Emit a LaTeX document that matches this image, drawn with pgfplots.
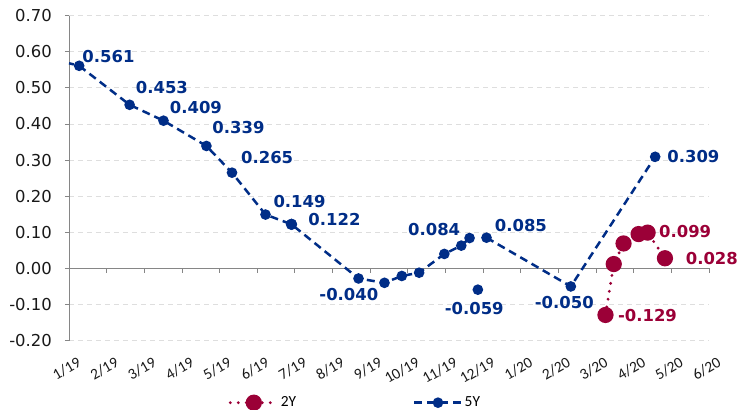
\documentclass[border=0pt]{standalone}
\usepackage{fontspec}
\setmainfont{DejaVu Sans}
\newfontfamily\carlito{Carlito}
\usepackage{pgfplots}
\pgfplotsset{compat=1.18}
\definecolor{navy5}{RGB}{0,45,135}
\definecolor{crim2}{RGB}{155,0,55}
\definecolor{axgray}{RGB}{134,134,134}
\definecolor{gridgray}{RGB}{222,222,222}
\begin{document}
\fontsize{16.5}{18}\selectfont
\begin{tikzpicture}[font=\fontsize{16.5}{18}\selectfont]
\begin{axis}[
  scale only axis, width=640bp, height=325bp,
  xmin=0, xmax=17, ymin=-0.2, ymax=0.7,
  axis x line*=bottom, axis y line*=left,
  x axis line style={draw=none},
  y axis line style={axgray, line width=0.8bp, -},
  xtick={0,...,17},
  xticklabels={1/19,2/19,3/19,4/19,5/19,6/19,7/19,8/19,9/19,10/19,11/19,12/19,1/20,2/20,3/20,4/20,5/20,6/20},
  x tick style={draw=none},
  ytick={-0.2,-0.1,0,0.1,0.2,0.3,0.4,0.5,0.6,0.7},
  yticklabels={-0.20,-0.10,0.00,0.10,0.20,0.30,0.40,0.50,0.60,0.70},
  y tick style={axgray, line width=0.8bp},
  tick align=outside, major tick length=4bp,
  ymajorgrids, grid style={gridgray, line width=0.8bp, dash pattern=on 5bp off 4bp},
  every tick label/.append style={font=\fontsize{16.5}{18}\selectfont, text=black!90},
  yticklabel style={inner sep=0pt, xshift=-13bp},
  xticklabel style={font=\carlito\fontsize{15.5}{16}\selectfont, rotate=30, anchor=north east, inner sep=0pt, xshift=1bp, yshift=-13.5bp},
  clip=false,
  unbounded coords=jump,
  legend columns=2,
  legend style={draw=none, fill=none, at={(0.4475,-0.191)}, anchor=center,
    font=\carlito\fontsize{15.5}{16}\selectfont,
    /tikz/every even column/.append style={column sep=115bp}},
  legend image code/.code={\draw[mark repeat=2,mark phase=2,#1] plot coordinates {(0bp,0bp) (23.5bp,0bp) (47bp,0bp)};},
]
\draw[axgray, line width=0.8bp] (axis cs:0,0) -- (axis cs:17,0);
\pgfplotsinvokeforeach{0,...,17}{\draw[axgray, line width=0.8bp] (axis cs:#1,0) -- ++(0bp,-5bp);}

\addplot[crim2, line width=3.2bp, dash pattern=on 0pt off 8bp, line cap=round, mark=*, mark size=6.5bp, mark options={solid}] coordinates {
 (14.25,-0.129) (14.47,0.012) (14.73,0.069) (15.13,0.095) (15.37,0.099) (15.83,0.028)
};
\addlegendentry{2Y}
\addplot[navy5, line width=2.5bp, dash pattern=on 8bp off 5bp, mark=*, mark size=4bp, mark options={solid}] coordinates {
 (0.27,0.561) (1.61,0.453) (2.51,0.409) (3.65,0.339) (4.33,0.265) (5.22,0.149) (5.91,0.122)
 (7.69,-0.028) (8.38,-0.040) (8.84,-0.021) (9.30,-0.012) (9.97,0.040) (10.42,0.063) (10.64,0.084)
 (10.75,nan) (10.86,-0.059) (10.97,nan)
 (11.09,0.085) (13.33,-0.050) (15.57,0.309)
};
\addlegendentry{5Y}
\addplot[navy5, line width=2.5bp, dash pattern=on 5bp off 5bp, forget plot] coordinates {(0,0.568) (0.27,0.561)};
\addplot[navy5, only marks, mark=*, mark size=5.5bp, forget plot] coordinates {(5.91,0.122)};

\begin{scope}[every node/.style={anchor=west, inner sep=0pt, font=\bfseries\fontsize{16.5}{18}\selectfont, text=navy5}]
\node at (axis cs:0.353,0.586) {0.561};
\node at (axis cs:1.772,0.501) {0.453};
\node at (axis cs:2.675,0.446) {0.409};
\node at (axis cs:3.806,0.390) {0.339};
\node at (axis cs:4.568,0.306) {0.265};
\node at (axis cs:5.427,0.185) {0.149};
\node at (axis cs:6.356,0.134) {0.122};
\node at (axis cs:6.648,-0.072) {-0.040};
\node at (axis cs:9.004,0.108) {0.084};
\node at (axis cs:11.307,0.119) {0.085};
\node at (axis cs:9.978,-0.111) {-0.059};
\node at (axis cs:12.370,-0.094) {-0.050};
\node at (axis cs:15.89,0.310) {0.309};
\end{scope}
\begin{scope}[every node/.style={anchor=west, inner sep=0pt, font=\bfseries\fontsize{16.5}{18}\selectfont, text=crim2}]
\node at (axis cs:14.58,-0.131) {-0.129};
\node at (axis cs:15.67,0.101) {0.099};
\node at (axis cs:16.38,0.028) {0.028};
\end{scope}
\end{axis}
\node[anchor=base, font=\bfseries\fontsize{13.5}{15}\selectfont, text=black!85] at (307bp,344bp) {Government securities' weighted average yields (\%)};
\pgfresetboundingbox
\useasboundingbox (-69bp,-69.3bp) rectangle (677bp,340.6bp);
\end{tikzpicture}
\end{document}
